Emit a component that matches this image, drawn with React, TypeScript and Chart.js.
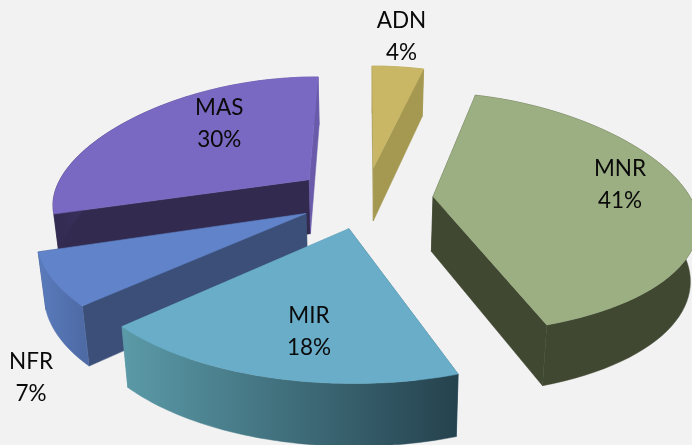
import React, { useEffect, useRef } from "react";
import { Chart, registerables } from "chart.js";

Chart.register(...registerables);

const categories = ["ADN", "MNR", "MIR", "NFR", "MAS"];
const shares = [4, 41, 18, 7, 30];
const topColors = ["#c9b766", "#9caf82", "#69adc9", "#6083c9", "#7a69c2"];
const startWallColors = ["#a59850", "#404832", "#3d6a7c", "#3b4f78", "#332a50"];
const endWallColors = ["#a59850", "#404832", "#5b9aa8", "#3b4f78", "#6a5aaa"];
const rimColorsFrom = ["#a59850", "#404832", "#5b9aa8", "#5a7bbc", "#332a50"];
const rimColorsTo = ["#a59850", "#404832", "#25424e", "#4e6ba6", "#6a5aaa"];
const labelOffsets = [[28, -131], [187, -12], [-40, 103], [-275, 164], [-90, -56]];
const sliceLean = [0, 0, 0.04, 0.06, 0];
const sliceShift = [0, -3, 0, 2, 0];
const paintOrder = [4, 0, 1, 3, 2];

const PLANE_RADIUS = 245;
const TILT = 0.45;
const NEAR_P = 0.0008;
const FAR_P_Y = 0.00022;
const WIDEN = 1.05;

type Pt = { x: number; y: number };

function project(cx: number, cy: number, px: number, py: number, lower: boolean, lean: number, shift: number): Pt {
  const sx = 1 / (1 - NEAR_P * py);
  const sy = py < 0 ? 1 / (1 - FAR_P_Y * py) : sx;
  let X = WIDEN * px * sx;
  let Y = TILT * py * sy;
  if (lower) {
    X *= 0.977;
    Y += 55 + 0.025 * py;
  }
  return { x: cx + X + lean * py + shift, y: cy + Y };
}

function fillPath(ctx: CanvasRenderingContext2D, pts: Pt[], fill: string | CanvasGradient) {
  ctx.beginPath();
  pts.forEach((p, i) => (i ? ctx.lineTo(p.x, p.y) : ctx.moveTo(p.x, p.y)));
  ctx.closePath();
  ctx.fillStyle = fill;
  ctx.fill();
  ctx.strokeStyle = fill;
  ctx.lineWidth = 0.5;
  ctx.stroke();
}

const pie3d = {
  id: "pie3d",
  beforeDraw(chart: any) {
    const { ctx, width, height } = chart;
    ctx.save();
    ctx.fillStyle = "#f2f2f2";
    ctx.fillRect(0, 0, width, height);
    ctx.restore();
  },
  beforeDatasetsDraw(chart: any) {
    const { ctx } = chart;
    const arcs = chart.getDatasetMeta(0).data;
    const anchors: Pt[] = [];
    ctx.save();
    paintOrder.forEach((i) => {
      const arc = arcs[i];
      const { x: cx, y: cy, startAngle, endAngle, outerRadius } = arc.getProps(
        ["x", "y", "startAngle", "endAngle", "outerRadius"],
        true
      );
      const unit = PLANE_RADIUS / outerRadius;
      const mid = (startAngle + endAngle) / 2;
      const e = arc.options.offset * unit;
      const ax = Math.cos(mid) * e;
      const ay = Math.sin(mid) * e;
      const steps = 64;
      const rimPlane: [number, number][] = [];
      for (let s = 0; s <= steps; s++) {
        const a = startAngle + ((endAngle - startAngle) * s) / steps;
        rimPlane.push([ax + Math.cos(a) * PLANE_RADIUS, ay + Math.sin(a) * PLANE_RADIUS]);
      }
      const up = rimPlane.map(([x, y]) => project(cx, cy, x, y, false, sliceLean[i], sliceShift[i]));
      const low = rimPlane.map(([x, y]) => project(cx, cy, x, y, true, sliceLean[i], sliceShift[i]));
      const apexUp = project(cx, cy, ax, ay, false, sliceLean[i], sliceShift[i]);
      const apexLow = project(cx, cy, ax, ay, true, sliceLean[i], sliceShift[i]);
      anchors[i] = apexUp;

      fillPath(ctx, [apexUp, up[0], low[0], apexLow], startWallColors[i]);
      fillPath(ctx, [apexUp, up[steps], low[steps], apexLow], endWallColors[i]);

      const xs = up.map((p) => p.x);
      const g = ctx.createLinearGradient(Math.min(...xs), 0, Math.max(...xs), 0);
      g.addColorStop(0, rimColorsFrom[i]);
      g.addColorStop(1, rimColorsTo[i]);
      fillPath(ctx, [...up, ...low.slice().reverse()], g);

      fillPath(ctx, [apexUp, ...up], arc.options.backgroundColor);
    });

    ctx.fillStyle = "#0a0a0a";
    ctx.font = '22.5px Lato, "Open Sans", sans-serif';
    ctx.textAlign = "center";
    ctx.textBaseline = "middle";
    categories.forEach((name, i) => {
      const lx = anchors[i].x + labelOffsets[i][0];
      const ly = anchors[i].y + labelOffsets[i][1];
      ctx.fillText(name, lx, ly - 16);
      ctx.fillText(`${shares[i]}%`, lx, ly + 16);
    });
    ctx.restore();
    return false;
  },
};

export default function App() {
  const ref = useRef<HTMLCanvasElement>(null);
  useEffect(() => {
    document.body.style.margin = "0";
    document.body.style.background = "#f2f2f2";
    const chart = new Chart(ref.current as HTMLCanvasElement, {
      type: "pie",
      data: {
        labels: categories,
        datasets: [{ data: shares, backgroundColor: topColors, borderWidth: 0, offset: 48, hoverOffset: 0 }],
      },
      options: {
        responsive: false,
        animation: false,
        layout: { padding: { left: 38, bottom: 50 } },
        plugins: { legend: { display: false }, tooltip: { enabled: false } },
      },
      plugins: [pie3d],
    } as any);
    return () => chart.destroy();
  }, []);
  return <canvas ref={ref} width={692} height={445} style={{ display: "block" }} />;
}
